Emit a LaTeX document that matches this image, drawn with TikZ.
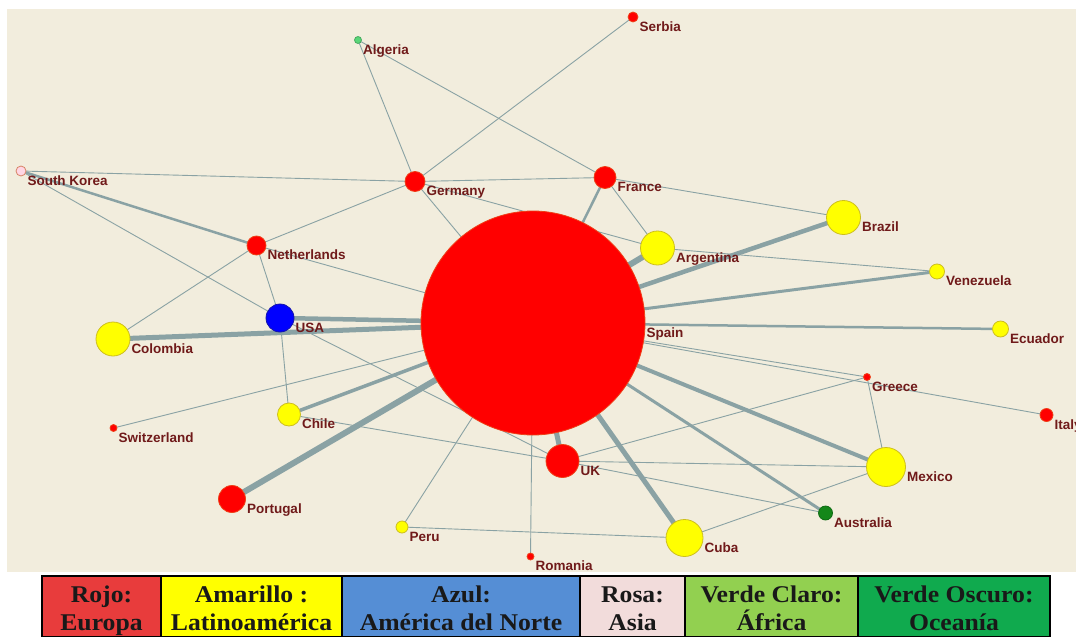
\documentclass[tikz,border=0pt]{standalone}
\usepackage{fontspec}
\usepackage{graphicx}
\setmainfont{Liberation Serif}
\newfontfamily\lblfont{Liberation Sans}

\pgfdeclarelayer{bg}
\pgfdeclarelayer{edges}
\pgfsetlayers{bg,edges,main}

% palette
\definecolor{paper}{RGB}{242,237,221}
\definecolor{edgec}{RGB}{138,162,164}
\definecolor{lblc}{RGB}{112,26,26}
\definecolor{redn}{RGB}{255,0,0}
\definecolor{redb}{RGB}{238,64,24}
\definecolor{yeln}{RGB}{255,255,0}
\definecolor{yelb}{RGB}{205,190,30}
\definecolor{bluen}{RGB}{0,0,255}
\definecolor{blueb}{RGB}{20,20,170}
\definecolor{pinkn}{RGB}{255,214,228}
\definecolor{pinkb}{RGB}{215,130,100}
\definecolor{lgreenn}{RGB}{90,214,120}
\definecolor{dgreenn}{RGB}{20,135,25}
\definecolor{cRojo}{RGB}{232,60,60}
\definecolor{cAmar}{RGB}{255,255,0}
\definecolor{cAzul}{RGB}{85,142,213}
\definecolor{cRosa}{RGB}{242,220,219}
\definecolor{cVClaro}{RGB}{146,208,80}
\definecolor{cVOsc}{RGB}{16,170,78}

\tikzset{
  nd/.style={circle, inner sep=0pt, outer sep=0pt, line width=0.8pt},
  eur/.style={nd, fill=redn, draw=redb},
  lat/.style={nd, fill=yeln, draw=yelb},
  nam/.style={nd, fill=bluen, draw=blueb},
  asi/.style={nd, fill=pinkn, draw=pinkb},
  afr/.style={nd, fill=lgreenn, draw=lgreenn!80!black},
  oce/.style={nd, fill=dgreenn, draw=dgreenn!80!black},
  lbl/.style={anchor=base west, inner sep=0pt, outer sep=0pt, text=lblc,
    font=\lblfont\bfseries\fontsize{13.5}{16}\selectfont},
  rel/.style={draw=edgec, line width=#1, line cap=butt},
  rel/.default=0.9pt,
  legbox/.style={draw=black, line width=1.4pt},
  legtext/.style={anchor=base, inner sep=0pt, text=black!90,
    font=\bfseries\fontsize{24}{28}\selectfont},
}

% country: name, x, y, radius, style, label
\newcommand\country[6]{%
  \node[#5, minimum size={2*#4pt}] (#1) at (#2,#3) {};
  \node[lbl] (#1-lab) at ([xshift=1.5pt,yshift=-14pt]#1.east) {#6};}

% legend cell: name, left, right, colour, first line, second line
\newcommand\legcell[6]{%
  \draw[legbox, fill=#4] (#2,576) rectangle (#3,637);
  \node[legtext] (#1-a) at ({(#2+#3)/2},602.5) {\scalebox{1.07}[1]{#5}};
  \node[legtext] (#1-b) at ({(#2+#3)/2},630) {\scalebox{1.07}[1]{#6}};}

\begin{document}
\begin{tikzpicture}[x=1pt, y=-1pt]
\useasboundingbox (0,0) rectangle (1076,637);
\begin{pgfonlayer}{bg}
  \fill[white] (0,0) rectangle (1076,637);
  \fill[paper] (7,9) rectangle (1076,572);
\end{pgfonlayer}

% countries
\country{Spain}{533}{323}{112}{eur}{Spain}
\country{Germany}{415}{181.5}{10}{eur}{Germany}
\country{France}{605}{177.5}{11}{eur}{France}
\country{Algeria}{358}{40}{3.5}{afr}{Algeria}
\country{Serbia}{633}{17}{5}{eur}{Serbia}
\country{SKorea}{21}{171}{5}{asi}{South Korea}
\country{Netherlands}{256.5}{245.5}{9.5}{eur}{Netherlands}
\country{USA}{280}{318}{14}{nam}{USA}
\country{Colombia}{113}{339}{17}{lat}{Colombia}
\country{Switzerland}{113.5}{428}{3.5}{eur}{Switzerland}
\country{Chile}{289}{414.5}{11.5}{lat}{Chile}
\country{Portugal}{232}{499}{13.5}{eur}{Portugal}
\country{Peru}{402}{527}{6}{lat}{Peru}
\country{Romania}{530.5}{556.5}{3.5}{eur}{Romania}
\country{UK}{562.5}{461}{16.5}{eur}{UK}
\country{Cuba}{684.5}{538}{18.5}{lat}{Cuba}
\country{Australia}{825.5}{513}{7}{oce}{Australia}
\country{Mexico}{886}{467}{19.5}{lat}{Mexico}
\country{Greece}{867}{377}{3.5}{eur}{Greece}
\country{Italy}{1046.5}{415}{6.5}{eur}{Italy}
\country{Ecuador}{1000.5}{329}{8}{lat}{Ecuador}
\country{Venezuela}{937}{271.5}{7.5}{lat}{Venezuela}
\country{Brazil}{843.5}{217.5}{17}{lat}{Brazil}
\country{Argentina}{657.5}{248}{17}{lat}{Argentina}

% links
\begin{pgfonlayer}{edges}
  \draw[rel=4.5pt] (Spain) -- (USA);
  \draw[rel=5pt]   (Spain) -- (Colombia);
  \draw[rel=6pt]   (Spain) -- (Argentina);
  \draw[rel=4.5pt] (Spain) -- (Brazil);
  \draw[rel=3pt]   (Spain) -- (Venezuela);
  \draw[rel=2.5pt] (Spain) -- (Ecuador);
  \draw[rel]       (Spain) -- (Greece);
  \draw[rel]       (Spain) -- (Italy);
  \draw[rel=4pt]   (Spain) -- (Mexico);
  \draw[rel=3pt]   (Spain) -- (Australia);
  \draw[rel=5pt]   (Spain) -- (Cuba);
  \draw[rel=5pt]   (Spain) -- (UK);
  \draw[rel=6pt]   (Spain) -- (Portugal);
  \draw[rel=3.5pt] (Spain) -- (Chile);
  \draw[rel]       (Spain) -- (Switzerland);
  \draw[rel]       (Spain) -- (Peru);
  \draw[rel]       (Spain) -- (Romania);
  \draw[rel=2.5pt] (Spain) -- (France);
  \draw[rel]       (Spain) -- (Germany);
  \draw[rel]       (Spain) -- (Netherlands);
  \draw[rel]       (Algeria) -- (Germany);
  \draw[rel]       (Algeria) -- (France);
  \draw[rel]       (Serbia) -- (Germany);
  \draw[rel]       (SKorea) -- (Germany);
  \draw[rel=2.5pt] (SKorea) -- (Netherlands);
  \draw[rel]       (SKorea) -- (USA);
  \draw[rel]       (Germany) -- (Netherlands);
  \draw[rel]       (Germany) -- (France);
  \draw[rel]       (Germany) -- (Argentina);
  \draw[rel]       (France) -- (Brazil);
  \draw[rel]       (France) -- (Argentina);
  \draw[rel]       (Argentina) -- (Venezuela);
  \draw[rel]       (Netherlands) -- (USA);
  \draw[rel]       (Netherlands) -- (Colombia);
  \draw[rel]       (USA) -- (Chile);
  \draw[rel]       (USA) -- (UK);
  \draw[rel]       (Chile) -- (UK);
  \draw[rel]       (UK) -- (Mexico);
  \draw[rel]       (UK) -- (Australia);
  \draw[rel]       (UK) -- (Greece);
  \draw[rel]       (Peru) -- (Cuba);
  \draw[rel]       (Cuba) -- (Mexico);
  \draw[rel]       (Mexico) -- (Greece);
\end{pgfonlayer}

% legend
\legcell{rojo}{42}{161}{cRojo}{Rojo:}{Europa}
\legcell{amar}{161}{342}{cAmar}{Amarillo :}{Latinoamérica}
\legcell{azul}{342}{580}{cAzul}{Azul:}{América del Norte}
\legcell{rosa}{580}{685}{cRosa}{Rosa:}{Asia}
\legcell{vcla}{685}{858}{cVClaro}{Verde Claro:}{África}
\legcell{vosc}{858}{1050}{cVOsc}{Verde Oscuro:}{Oceanía}
\end{tikzpicture}
\end{document}
